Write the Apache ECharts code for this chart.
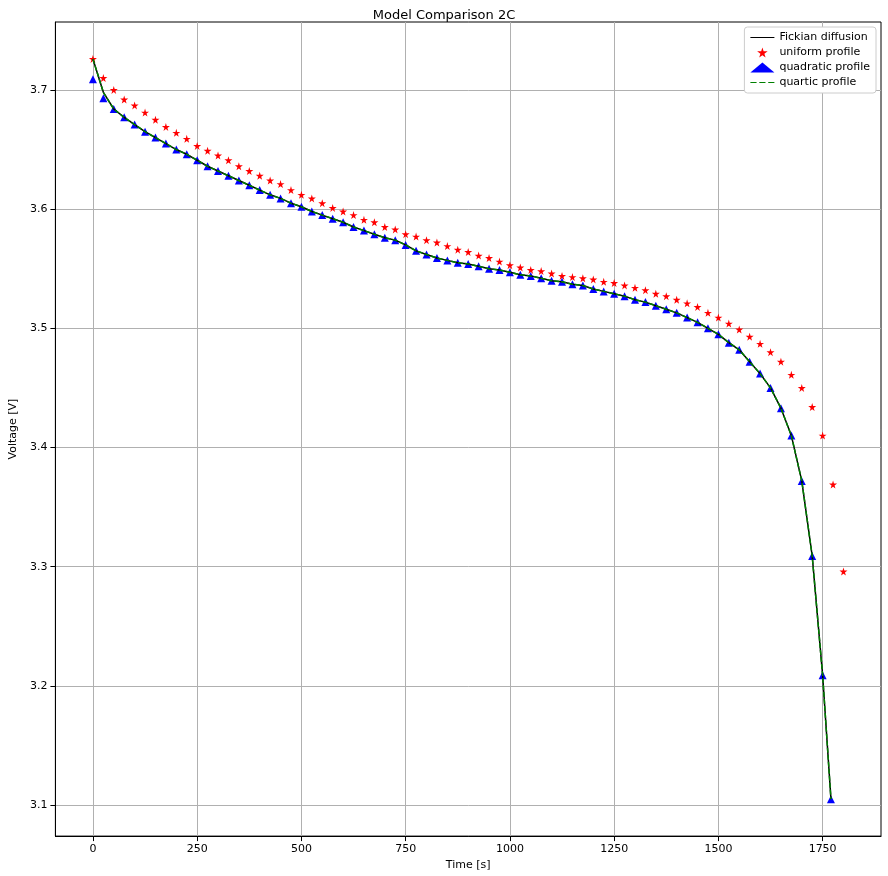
<!DOCTYPE html>
<html><head><meta charset="utf-8">
<script src="https://cdn.jsdelivr.net/npm/echarts@6/dist/echarts.min.js"></script>
<style>html,body{margin:0;background:#fff}#chart{width:888px;height:876px}</style>
</head><body><div id="chart"></div>
<script>
const uniformT = [];
for (let t = 0; t <= 1800; t += 25) uniformT.push(t);
const uniformV = [3.726,3.710,3.700,3.692,3.687,3.681,3.675,3.669,3.664,3.659,3.653,3.649,3.645,3.641,3.636,3.632,3.628,3.624,3.621,3.616,3.612,3.609,3.605,3.601,3.598,3.595,3.591,3.589,3.585,3.583,3.579,3.577,3.574,3.572,3.569,3.566,3.564,3.561,3.559,3.556,3.553,3.551,3.549,3.548,3.546,3.544,3.543,3.542,3.541,3.539,3.538,3.536,3.534,3.532,3.529,3.527,3.524,3.521,3.518,3.513,3.509,3.504,3.499,3.493,3.487,3.480,3.472,3.461,3.450,3.434,3.410,3.369,3.296];
const quadT = [];
for (let t = 0; t <= 1750; t += 25) quadT.push(t);
quadT.push(1770);
const quadV = [3.709,3.693,3.684,3.677,3.671,3.665,3.660,3.655,3.650,3.646,3.641,3.636,3.632,3.628,3.624,3.620,3.616,3.612,3.609,3.605,3.602,3.598,3.595,3.592,3.589,3.585,3.582,3.579,3.576,3.574,3.570,3.565,3.562,3.559,3.557,3.555,3.554,3.552,3.550,3.549,3.547,3.545,3.544,3.542,3.540,3.539,3.537,3.536,3.533,3.531,3.529,3.527,3.524,3.522,3.519,3.516,3.513,3.509,3.505,3.500,3.495,3.488,3.482,3.472,3.462,3.450,3.433,3.410,3.372,3.309,3.209,3.105];
// Fickian / quartic lines follow the quadratic points, except the first step
const fickV = quadV.slice(); fickV[0] = 3.726; fickV[1] = 3.698;
const xTicks = [0, 250, 500, 750, 1000, 1250, 1500, 1750];
const yTicks = [3.1, 3.2, 3.3, 3.4, 3.5, 3.6, 3.7];

const zip = (xs, ys) => xs.map((x, i) => [x, ys[i]]);
const star = 'path://M50,0 L61,35 L98,35 L68,57 L79,91 L50,70 L21,91 L32,57 L2,35 L39,35 Z';
const solidIcon = 'path://M0,4.3H40V5.7H0Z M0,0H0.01V10H0Z';
const dashIcon = 'path://M0,4.3H9V5.7H0Z M13,4.3H22V5.7H13Z M26,4.3H35V5.7H26Z M0,0H0.01V10H0Z';
const font = 'DejaVu Sans';

const chart = echarts.init(document.getElementById('chart'));
chart.setOption({
  animation: false,
  textStyle: { fontFamily: font },
  title: { text: 'Model Comparison 2C', left: 'center', top: 4, textStyle: { fontFamily: font, fontSize: 13, fontWeight: 'normal', color: '#000' } },
  grid: { left: 44, right: 7, top: 22, bottom: 38, show: true, borderColor: '#000', borderWidth: 1 },
  legend: {
    right: 12, top: 27, orient: 'vertical', itemGap: 4, itemWidth: 24, itemHeight: 10,
    backgroundColor: '#fff', borderColor: '#ccc', borderWidth: 1, borderRadius: 3, padding: [5, 6],
    textStyle: { fontFamily: font, fontSize: 11, color: '#000' },
    data: [
      { name: 'Fickian diffusion', icon: solidIcon },
      { name: 'uniform profile' },
      { name: 'quadratic profile' },
      { name: 'quartic profile', icon: dashIcon }
    ]
  },
  xAxis: {
    type: 'value', min: -90, max: 1890,
    name: 'Time [s]', nameLocation: 'middle', nameGap: 22, nameTextStyle: { fontSize: 11, color: '#000' },
    axisLine: { onZero: false, lineStyle: { color: '#000' } },
    axisTick: { show: true, customValues: xTicks, lineStyle: { color: '#000' } },
    axisLabel: { color: '#000', fontSize: 11, customValues: xTicks, formatter: v => String(v) },
    splitLine: { lineStyle: { color: '#b0b0b0' } }
  },
  yAxis: {
    type: 'value', min: 3.074, max: 3.757,
    name: 'Voltage [V]', nameLocation: 'middle', nameGap: 30, nameTextStyle: { fontSize: 11, color: '#000' },
    axisLine: { show: true, onZero: false, lineStyle: { color: '#000' } },
    axisTick: { show: true, customValues: yTicks, lineStyle: { color: '#000' } },
    axisLabel: { color: '#000', fontSize: 11, customValues: yTicks, formatter: v => v.toFixed(1) },
    splitLine: { lineStyle: { color: '#b0b0b0' } }
  },
  series: [
    { name: 'Fickian diffusion', type: 'line', data: zip(quadT, fickV), showSymbol: false, symbol: 'none', lineStyle: { color: '#000', width: 1.5 }, itemStyle: { color: '#000' } },
    { name: 'uniform profile', type: 'scatter', data: zip(uniformT, uniformV), symbol: star, symbolSize: 8, itemStyle: { color: '#ff0000', opacity: 1 } },
    { name: 'quadratic profile', type: 'scatter', data: zip(quadT, quadV), symbol: 'triangle', symbolSize: 8, itemStyle: { color: '#0000ff', opacity: 1 } },
    { name: 'quartic profile', type: 'line', data: zip(quadT, fickV), showSymbol: false, symbol: 'none', lineStyle: { color: '#008000', width: 1.5, type: [5, 2] }, itemStyle: { color: '#008000' } }
  ]
});
</script></body></html>
